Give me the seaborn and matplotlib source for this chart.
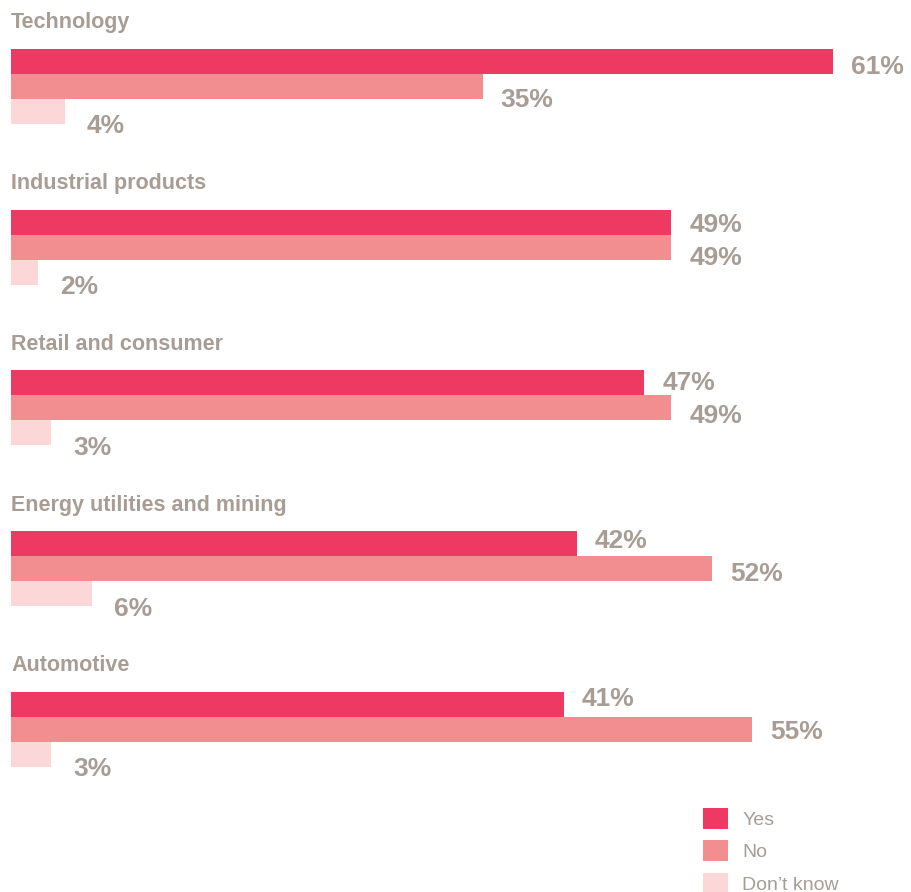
import matplotlib
matplotlib.use("Agg")
from matplotlib import pyplot as plt
from matplotlib.patches import Patch
import pandas as pd
import seaborn as sns

# survey answers per sector (%)
sectors = ["Technology", "Industrial products", "Retail and consumer",
           "Energy utilities and mining", "Automotive"]
answers = ["Yes", "No", "Don\u2019t know"]
yes_vals = [61, 49, 47, 42, 41]
no_vals = [35, 49, 49, 52, 55]
dk_vals = [4, 2, 3, 6, 3]

colors = ["#ee3a62", "#f28e8f", "#fbd7d7"]
text_grey = "#a79d95"

df = pd.DataFrame({
    "sector": sectors * 3,
    "answer": [a for a in answers for _ in sectors],
    "value": yes_vals + no_vals + dk_vals,
})

sns.set_theme(style="white")
plt.rcParams["font.family"] = ["Liberation Sans", "DejaVu Sans"]

fig = plt.figure(figsize=(9.12, 8.92), dpi=100)
ax = fig.add_axes([0, 0, 1, 1])
sns.barplot(data=df, y="sector", x="value", hue="answer", order=sectors,
            hue_order=answers, palette=colors, width=0.467, orient="h",
            saturation=1, ax=ax, legend=False, linewidth=0)

ax.set_xlim(-0.816, 66.86)
ax.set_ylim(5.012, -0.538)
ax.axis("off")

# value labels: pixel shift below bar centre (start, drift per group)
y_shift = [(3.5, -2.75), (12.0, -2.9), (13.0, 0.0)]
x_nudge = [13, 13, 16]
for cont, (d0, drift), dx in zip(ax.containers, y_shift, x_nudge):
    for i, bar in enumerate(cont):
        w = bar.get_width()
        yc = bar.get_y() + bar.get_height() / 2
        dy = -(d0 + drift * i + 2) * 0.72
        ax.annotate(f"{w:.0f}%", (w, yc), xytext=(dx, dy),
                    textcoords="offset points", ha="left", va="center",
                    fontsize=19, fontweight="bold", color=text_grey)

# sector titles above each group
for i, name in enumerate(sectors):
    ax.text(0, i - 0.395, name, ha="left", va="center", fontsize=15.5,
            fontweight="bold", color=text_grey)

handles = [Patch(facecolor=c, edgecolor="none") for c in colors]
leg = fig.legend(handles, answers, loc="upper left",
                 bbox_to_anchor=(0.771, 1 - 808 / 892), frameon=False,
                 fontsize=14, handlelength=1.3, handleheight=1.3,
                 labelspacing=0.57, handletextpad=0.72, borderpad=0,
                 borderaxespad=0)
for t in leg.get_texts():
    t.set_color(text_grey)

fig.savefig("out.png", dpi=100)
